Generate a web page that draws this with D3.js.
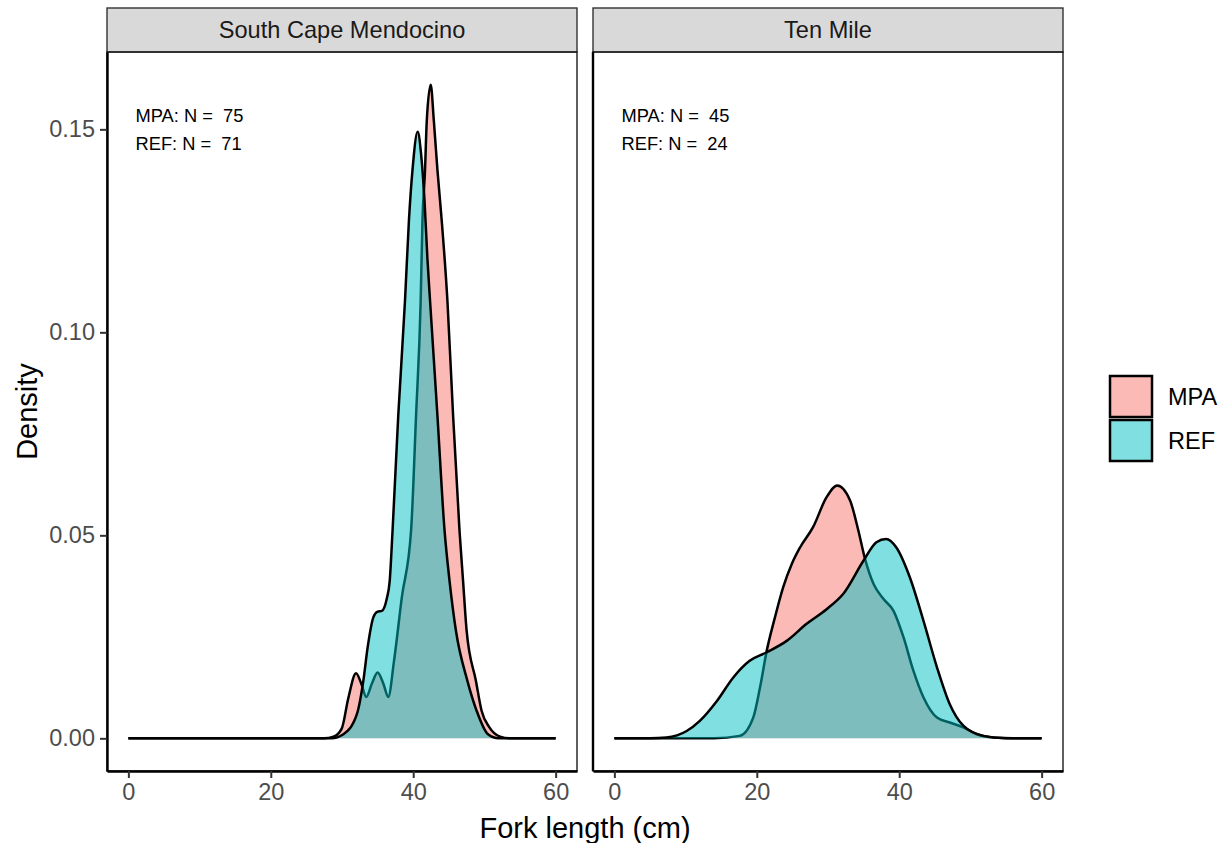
<!DOCTYPE html>
<html>
<head>
<meta charset="utf-8">
<script src="https://cdn.jsdelivr.net/npm/d3@7"></script>
<style>
  body { margin: 0; background: #fff; }
  svg { font-family: "Liberation Sans", Arial, sans-serif; }
</style>
</head>
<body>
<div id="chart"></div>
<script>
// facets, groups and sample sizes
const sites = ['South Cape Mendocino', 'Ten Mile']
const groups = ['MPA', 'REF']
const groupColors = ['#F8766D', '#00BFC4']
const sampleSizes = [[75, 71], [45, 24]]
const xTicks = [0, 20, 40, 60]
const yTicks = [0, 0.05, 0.10, 0.15]

// density curves: [fork length, density]
const scmMPA = [[0, 0], [27.5, 0], [28.8, 0.0004], [29.96, 0.0024], [30.9, 0.010], [31.97, 0.016],
  [32.7, 0.0135], [33.4, 0.0102], [34.2, 0.0135], [35.0, 0.0162], [35.8, 0.0135], [36.5, 0.0102],
  [37.3, 0.019], [38.4, 0.0347], [39.7, 0.0512], [40.4, 0.0795], [41.05, 0.1079], [41.3, 0.1276],
  [41.66, 0.140], [41.9, 0.152], [42.46, 0.161], [42.9, 0.152], [43.4, 0.140], [44.0, 0.1276],
  [44.8, 0.1079], [45.6, 0.0795], [46.5, 0.0512], [47.0, 0.0388], [47.5, 0.0265], [48.8, 0.0142],
  [49.6, 0.0068], [50.7, 0.0027], [52.2, 0.0004], [53.5, 0], [60, 0]]
const scmREF = [[0, 0], [28.5, 0], [30.2, 0.001], [32.1, 0.006], [33.0, 0.0142], [33.6, 0.0224],
  [34.4, 0.0298], [35.0, 0.0312], [35.6, 0.0314], [36.3, 0.0345], [36.7, 0.0388], [37.1, 0.0512],
  [37.9, 0.0795], [38.85, 0.1079], [39.4, 0.1276], [39.9, 0.140], [40.63, 0.1494], [41.1, 0.144],
  [41.6, 0.132], [42.0, 0.118], [42.36, 0.1079], [43.4, 0.0795], [44.4, 0.0512], [45.1, 0.0388],
  [46.0, 0.0265], [47.6, 0.0142], [48.9, 0.0068], [50.5, 0.001], [52, 0], [60, 0]]
const tmMPA = [[0, 0], [14, 0], [17.6, 0.0006], [19.5, 0.0051], [20.45, 0.0125], [21.4, 0.0216],
  [22.55, 0.0298], [23.7, 0.0372], [24.9, 0.0429], [26.07, 0.047], [27.9, 0.052], [29.8, 0.0594],
  [31.3, 0.0623], [33.1, 0.0586], [34.26, 0.0512], [35.2, 0.0442], [36.4, 0.038], [37.8, 0.0343],
  [39.2, 0.0314], [40.6, 0.0249], [42.0, 0.0166], [43.4, 0.0101], [45.3, 0.0051], [47.1, 0.0039],
  [49.0, 0.0027], [50.9, 0.001], [53.2, 0.0002], [56, 0], [60, 0]]
const tmREF = [[0, 0], [5, 0], [7.3, 0.0002], [10.15, 0.0018], [12.0, 0.0043], [14.4, 0.0092],
  [16.7, 0.015], [19.0, 0.0191], [21.4, 0.0212], [24.2, 0.024], [27.0, 0.0282], [29.8, 0.0318],
  [32.15, 0.0356], [35.0, 0.0438], [36.8, 0.0483], [38.15, 0.0491], [39.6, 0.047], [41.5, 0.0396],
  [43.4, 0.029], [45.3, 0.0175], [47.1, 0.0084], [49.0, 0.0031], [51.8, 0.0006], [55, 0], [60, 0]]

const curves = [[scmMPA, scmREF], [tmMPA, tmREF]]

const W = 1225
const H = 843
const panelX = [107, 593]
const panelW = 470
const panelTop = 52
const panelH = 719
const stripTop = 8

const svg = d3.select('#chart').append('svg')
  .attr('width', W)
  .attr('height', H)

const yMax = d3.max(curves.flat(2), d => d[1])
const x = d3.scaleLinear().domain([-3, 63]).range([0, panelW])
const y = d3.scaleLinear().domain([-yMax * 0.05, yMax * 1.05]).range([panelH, 0])

const area = d3.area()
  .x(d => x(d[0]))
  .y0(y(0))
  .y1(d => y(d[1]))
  .curve(d3.curveMonotoneX)
const line = d3.line()
  .x(d => x(d[0]))
  .y(d => y(d[1]))
  .curve(d3.curveMonotoneX)

sites.forEach((site, i) => {
  // strip
  svg.append('rect')
    .attr('x', panelX[i])
    .attr('y', stripTop)
    .attr('width', panelW)
    .attr('height', panelTop - stripTop)
    .attr('fill', '#D9D9D9')
    .attr('stroke', '#333333')
    .attr('stroke-width', 1.4)
  svg.append('text')
    .attr('x', panelX[i] + panelW / 2)
    .attr('y', (stripTop + panelTop) / 2)
    .attr('dy', '0.35em')
    .attr('text-anchor', 'middle')
    .attr('font-size', '23.6px')
    .attr('fill', '#1A1A1A')
    .text(site)

  const g = svg.append('g')
    .attr('transform', `translate(${panelX[i]}, ${panelTop})`)

  curves[i].forEach((c, k) => {
    g.append('path')
      .datum(c)
      .attr('d', area)
      .attr('fill', groupColors[k])
      .attr('fill-opacity', 0.5)
    g.append('path')
      .datum(c)
      .attr('d', line)
      .attr('fill', 'none')
      .attr('stroke', 'black')
      .attr('stroke-width', 2.5)
  })

  // sample size labels
  groups.forEach((grp, k) => {
    g.append('text')
      .attr('x', x(1))
      .attr('y', y(0.1535 - k * 0.0069))
      .attr('dy', '0.35em')
      .attr('font-size', '18.3px')
      .attr('fill', 'black')
      .text(`${grp}: N =  ${sampleSizes[i][k]}`)
      .attr('xml:space', 'preserve')
      .style('white-space', 'pre')
  })

  // panel border
  g.append('rect')
    .attr('width', panelW)
    .attr('height', panelH)
    .attr('fill', 'none')
    .attr('stroke', '#1A1A1A')
    .attr('stroke-width', 1.4)

  // x axis
  const xa = g.append('g')
    .attr('transform', `translate(0, ${panelH})`)
    .call(d3.axisBottom(x).tickValues(xTicks).tickSize(7).tickSizeOuter(0).tickPadding(5))
  xa.select('.domain').attr('stroke', 'black').attr('stroke-width', 2.4)
  xa.selectAll('.tick line').attr('stroke', '#333333').attr('stroke-width', 2)
  xa.selectAll('.tick text').attr('font-size', '23.5px').attr('fill', '#4D4D4D')
    .attr('font-family', '"Liberation Sans", Arial, sans-serif')

  // y axis
  if (i === 0) {
    const ya = g.append('g')
      .call(d3.axisLeft(y).tickValues(yTicks).tickFormat(d3.format('.2f')).tickSize(7).tickSizeOuter(0).tickPadding(5))
    ya.select('.domain').attr('stroke', 'black').attr('stroke-width', 2.4)
    ya.selectAll('.tick line').attr('stroke', '#333333').attr('stroke-width', 2)
    ya.selectAll('.tick text').attr('font-size', '23.5px').attr('fill', '#4D4D4D')
      .attr('font-family', '"Liberation Sans", Arial, sans-serif')
  } else {
    g.append('line')
      .attr('x1', 0).attr('x2', 0)
      .attr('y1', 0).attr('y2', panelH)
      .attr('stroke', 'black')
      .attr('stroke-width', 2.4)
  }
})

// axis titles
svg.append('text')
  .attr('x', (panelX[0] + panelX[1] + panelW) / 2)
  .attr('y', 828)
  .attr('dy', '0.35em')
  .attr('text-anchor', 'middle')
  .attr('font-size', '29px')
  .text('Fork length (cm)')
svg.append('text')
  .attr('transform', `translate(27, ${panelTop + panelH / 2}) rotate(-90)`)
  .attr('dy', '0.35em')
  .attr('text-anchor', 'middle')
  .attr('font-size', '29px')
  .text('Density')

// legend
const legend = svg.append('g')
  .attr('transform', 'translate(1109, 375)')
  .selectAll('g')
  .data(groups)
  .enter()
  .append('g')
  .attr('transform', (d, k) => `translate(0, ${k * 44})`)
legend.append('rect')
  .attr('width', 44)
  .attr('height', 43)
  .attr('fill', 'white')
legend.append('rect')
  .attr('x', 1)
  .attr('y', 1)
  .attr('width', 42)
  .attr('height', 41)
  .attr('fill', (d, k) => groupColors[k])
  .attr('fill-opacity', 0.5)
  .attr('stroke', 'black')
  .attr('stroke-width', 2.5)
legend.append('text')
  .attr('x', 59)
  .attr('y', 22)
  .attr('dy', '0.35em')
  .attr('font-size', '23.5px')
  .text(d => d)
</script>
</body>
</html>
